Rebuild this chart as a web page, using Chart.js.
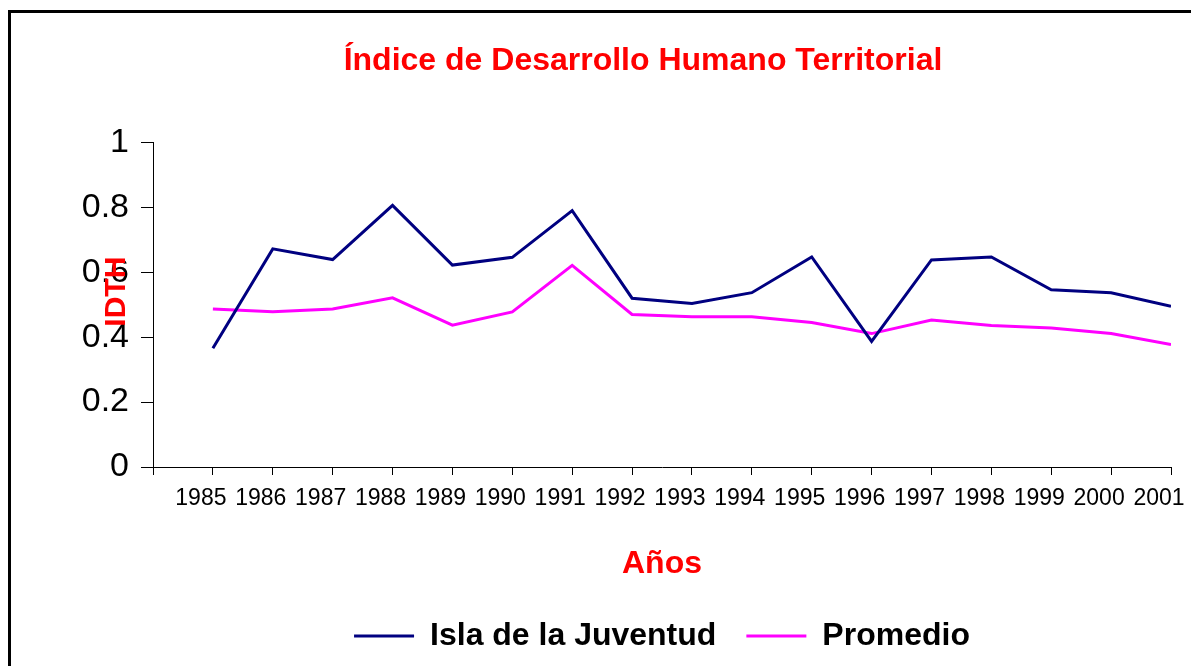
<!DOCTYPE html>
<html>
<head>
<meta charset="utf-8">
<script src="https://cdn.jsdelivr.net/npm/chart.js@4/dist/chart.umd.min.js"></script>
<style>
html, body { margin: 0; padding: 0; background: #fff; overflow: hidden; width: 1191px; height: 666px; }
#frame { position: absolute; left: 8px; top: 10px; width: 1400px; height: 900px; border: 3px solid #000; box-sizing: border-box; }
#wrap { position: absolute; left: 0; top: 0; width: 1286px; height: 666px; }
</style>
</head>
<body>
<div id="frame"></div>
<div id="wrap"><canvas id="chart"></canvas></div>
<script>
// Years on the x axis
const years = [1985, 1986, 1987, 1988, 1989, 1990, 1991, 1992, 1993,
               1994, 1995, 1996, 1997, 1998, 1999, 2000, 2001];

// IDHT values
const islaJuventud = [0.366, 0.672, 0.639, 0.806, 0.622, 0.646, 0.790, 0.520, 0.504,
                      0.537, 0.647, 0.387, 0.638, 0.647, 0.546, 0.537, 0.495];
const promedio = [0.487, 0.478, 0.487, 0.521, 0.437, 0.478, 0.621, 0.470, 0.463,
                  0.463, 0.445, 0.411, 0.453, 0.436, 0.428, 0.411, 0.377];

const seriesNames = ['Isla de la Juventud', 'Promedio'];
const chartTitle = 'Índice de Desarrollo Humano Territorial';
const xTitle = 'Años';
const yTitle = 'IDTH';

const SANS = '"Liberation Sans", Arial, sans-serif';

function toPoints(values) {
    return years.map((yr, i) => ({ x: yr, y: values[i] }));
}

// Y axis title sits over the tick labels, so draw it by hand
const yTitlePlugin = {
    id: 'yTitle',
    afterDraw(chart) {
        const { ctx, chartArea } = chart;
        ctx.save();
        ctx.translate(chartArea.left - 36, (chartArea.top + chartArea.bottom) / 2 - 13);
        ctx.rotate(-Math.PI / 2);
        ctx.font = 'bold 30px ' + SANS;
        ctx.fillStyle = '#FF0000';
        ctx.textAlign = 'center';
        ctx.textBaseline = 'middle';
        ctx.fillText(yTitle, 0, 0);
        ctx.restore();
    }
};

const ctx = document.getElementById('chart').getContext('2d');
new Chart(ctx, {
    type: 'line',
    data: {
        datasets: [
            {
                label: seriesNames[0],
                data: toPoints(islaJuventud),
                borderColor: '#000080',
                backgroundColor: '#000080',
                borderWidth: 3,
                pointRadius: 0,
                tension: 0
            },
            {
                label: seriesNames[1],
                data: toPoints(promedio),
                borderColor: '#FF00FF',
                backgroundColor: '#FF00FF',
                borderWidth: 3,
                pointRadius: 0,
                tension: 0
            }
        ]
    },
    options: {
        responsive: true,
        maintainAspectRatio: false,
        animation: false,
        layout: {
            padding: { left: 0, right: 0, top: 0, bottom: 4 }
        },
        plugins: {
            title: {
                display: true,
                text: chartTitle,
                color: '#FF0000',
                font: { family: SANS, size: 32, weight: 'bold', lineHeight: 1.2 },
                padding: { top: 42, bottom: 62 }
            },
            legend: {
                position: 'bottom',
                fullSize: false,
                labels: {
                    color: '#000',
                    font: { family: SANS, size: 32, weight: 'bold' },
                    boxWidth: 60,
                    boxHeight: 0,
                    padding: 30
                }
            },
            tooltip: { enabled: false }
        },
        scales: {
            x: {
                type: 'linear',
                min: 1984,
                max: 2001,
                border: { display: true, color: '#000', width: 1 },
                grid: { drawOnChartArea: false, drawTicks: true, tickLength: 8, color: '#000' },
                ticks: {
                    stepSize: 1,
                    autoSkip: false,
                    maxRotation: 0,
                    color: '#000',
                    labelOffset: -12,
                    padding: 10,
                    font: { family: SANS, size: 23 },
                    callback: v => (v === 1984 ? '' : String(v))
                },
                title: {
                    display: true,
                    text: xTitle,
                    color: '#FF0000',
                    font: { family: SANS, size: 32, weight: 'bold' },
                    padding: { top: 22, bottom: 7 }
                },
                afterFit: scale => {
                    scale.paddingLeft = 0;
                    scale.paddingRight = 0;
                }
            },
            y: {
                min: 0,
                max: 1,
                border: { display: true, color: '#000', width: 1 },
                grid: { drawOnChartArea: false, drawTicks: true, tickLength: 12, color: '#000' },
                ticks: {
                    stepSize: 0.2,
                    color: '#000',
                    padding: 12,
                    font: { family: SANS, size: 34 },
                    callback: v => String(Math.round(v * 10) / 10)
                },
                afterFit: scale => {
                    scale.width = 153;
                }
            },
            // empty spacer on the right so the title centres like the original
            spacer: {
                type: 'linear',
                position: 'right',
                display: true,
                border: { display: false },
                grid: { display: false },
                ticks: { display: false },
                afterFit: scale => {
                    scale.width = 115;
                }
            }
        }
    },
    plugins: [yTitlePlugin]
});
</script>
</body>
</html>
